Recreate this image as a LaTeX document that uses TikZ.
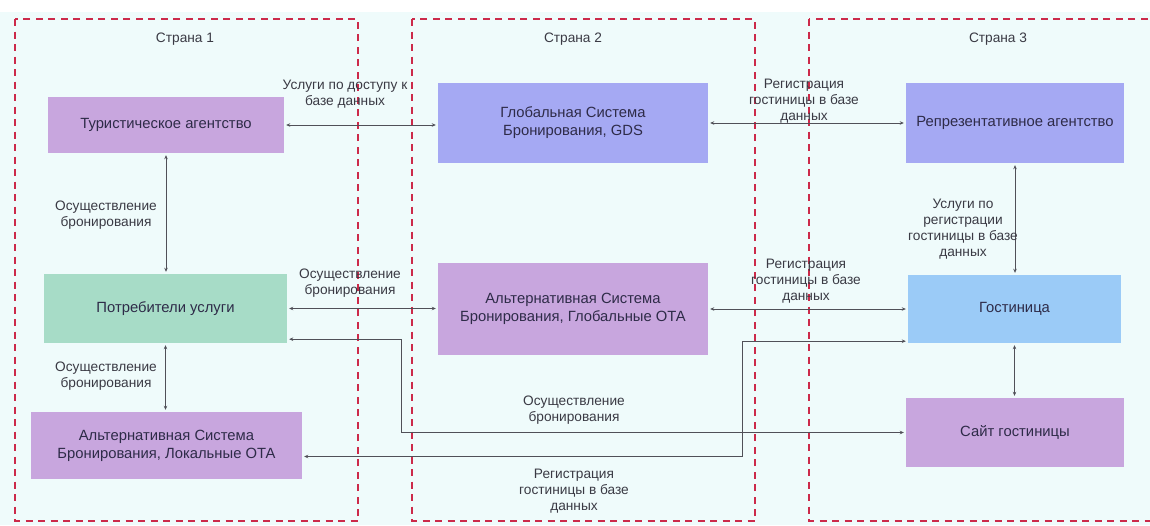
\documentclass[tikz,border=0pt]{standalone}
\usepackage{fontspec}
\setmainfont{Liberation Sans}
\usetikzlibrary{arrows.meta,calc}
\definecolor{bgc}{HTML}{EFFBFB}
\definecolor{dashc}{HTML}{CC2A4A}
\definecolor{purp}{HTML}{C8A6DE}
\definecolor{lav}{HTML}{A5A9F3}
\definecolor{grn}{HTML}{A7DCC7}
\definecolor{lblue}{HTML}{9BCBF7}
\definecolor{txtc}{HTML}{2E2B48}
\definecolor{lblc}{HTML}{3A3A44}
\definecolor{lnc}{HTML}{505058}
\begin{document}
\begin{tikzpicture}[x=1pt,y=-1pt,
  box/.style={draw=none, inner sep=2pt, align=center, text=txtc,
    font=\fontsize{14.8}{18}\selectfont},
  lbl/.style={align=center, text=lblc, inner sep=0pt,
    font=\fontsize{13.7}{16}\selectfont},
  country/.style={draw=dashc, line width=2.6pt, dash pattern=on 7pt off 5.5pt},
  conn/.style={draw=lnc, line width=0.8pt,
    {Stealth[length=4pt,width=3.5pt]}-{Stealth[length=4pt,width=3.5pt]},
    shorten >=2pt, shorten <=2pt}]
\clip (0,0) rectangle (1150,525);
\fill[white] (0,0) rectangle (1150,525);
\fill[bgc] (0,12) rectangle (1150,525);
% countries
\draw[country] (15,19) rectangle (358,521);
\draw[country] (412,19) rectangle (755,521);
\draw[country] (809,19) rectangle (1170,521);
\node[lbl] (c1) at (185,39) {Страна 1};
\node[lbl] (c2) at (573,39) {Страна 2};
\node[lbl] (c3) at (998,39) {Страна 3};
% nodes
\node[box, fill=purp, minimum width=236pt, minimum height=56pt] (ta) at (166,125) {Туристическое агентство};
\node[box, fill=lav, minimum width=270pt, minimum height=80pt] (gds) at (573,123) {Глобальная Система\\Бронирования, GDS};
\node[box, fill=lav, minimum width=218pt, minimum height=80pt] (rep) at (1015,123) {Репрезентативное агентство};
\node[box, fill=grn, minimum width=243pt, minimum height=69pt] (cons) at (165.5,308.5) {Потребители услуги};
\node[box, fill=purp, minimum width=271pt, minimum height=67pt] (loc) at (166.5,445.5) {Альтернативная Система\\Бронирования, Локальные ОТА};
\node[box, fill=purp, minimum width=270pt, minimum height=92pt] (glob) at (573,309) {Альтернативная Система\\Бронирования, Глобальные ОТА};
\node[box, fill=lblue, minimum width=213pt, minimum height=68pt] (hotel) at (1014.5,309) {Гостиница};
\node[box, fill=purp, minimum width=218pt, minimum height=69pt] (site) at (1015,432.5) {Сайт гостиницы};
% connectors
\draw[conn] (ta.east) -- (ta.east -| gds.west);
\draw[conn] (gds.east) -- (rep.west);
\draw[conn] (ta.south) -- (ta.south |- cons.north);
\draw[conn] (cons.south) -- (cons.south |- loc.north);
\draw[conn] (cons.east) -- (cons.east -| glob.west);
\draw[conn] (glob.east) -- (glob.east -| hotel.west);
\draw[conn] (rep.south) -- (rep.south |- hotel.north);
\draw[conn] (hotel.south) -- (hotel.south |- site.north);
\draw[conn] ([yshift=4pt]cons.south east) -- ++(114,0) |- (site.west);
\draw[conn] ([yshift=2pt]hotel.south west) -- ++(-165,0) |- ([yshift=-11pt]loc.east);
% labels
\node[lbl] (l1) at (345,94) {Услуги по доступу к\\базе данных};
\node[lbl] (l2) at (804,101) {Регистрация\\гостиницы в базе\\данных};
\node[lbl] (l3) at (106,215) {Осуществление\\бронирования};
\node[lbl] (l4) at (106,376) {Осуществление\\бронирования};
\node[lbl] (l5) at (350,283) {Осуществление\\бронирования};
\node[lbl] (l6) at (806,281) {Регистрация\\гостиницы в базе\\данных};
\node[lbl] (l7) at (963,229) {Услуги по\\регистрации\\гостиницы в базе\\данных};
\node[lbl] (l8) at (574,410) {Осуществление\\бронирования};
\node[lbl] (l9) at (574,491) {Регистрация\\гостиницы в базе\\данных};
\end{tikzpicture}
\end{document}
